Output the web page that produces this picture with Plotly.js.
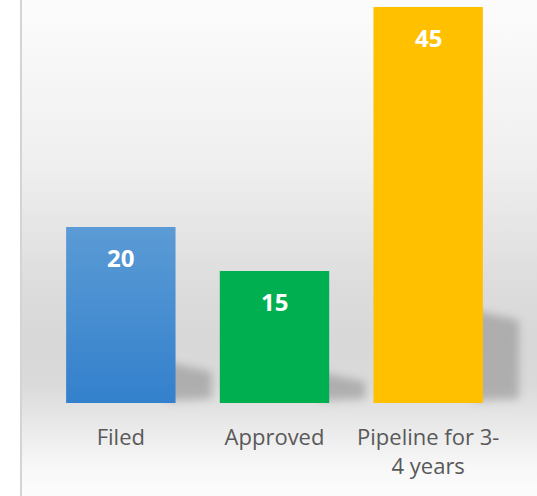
<!DOCTYPE html>
<html>
<head>
<meta charset="utf-8">
<script src="https://cdn.plot.ly/plotly-3.0.1.min.js"></script>
<style>
  html, body { margin: 0; padding: 0; background: #ffffff; }
  #wrap { position: relative; width: 537px; height: 496px; overflow: hidden; }
  #panel {
    position: absolute; left: 20px; top: 0; width: 517px; height: 496px;
    border-left: 2px solid #d4d4d4; box-sizing: border-box;
    background: linear-gradient(to bottom, #fcfcfc 0px, #efefef 165px, #dcdcdc 290px, #d8d8d8 340px, #dadada 385px, #e9e9e9 425px, #f8f8f8 468px, #fcfcfc 496px);
  }
  #chart { position: absolute; left: 0; top: 0; width: 537px; height: 496px; }
</style>
</head>
<body>
<div id="wrap">
  <div id="panel"></div>
  <div id="chart"></div>
</div>
<script>
const categories = ["Filed", "Approved", "Pipeline for 3-<br>4 years"];
const values = [20, 15, 45];
const barColors = ["#4a8fd4", "#00b050", "#ffc000"];

const annotations = categories.map((c, i) => ({
  x: c, y: values[i], xref: "x", yref: "y",
  text: "<b>" + values[i] + "</b>",
  showarrow: false, yanchor: "top", yshift: -12,
  font: { family: "Open Sans, sans-serif", size: 24, color: "#ffffff" }
}));

const trace = {
  type: "bar",
  x: categories,
  y: values,
  marker: { color: barColors, line: { width: 0 } },
  width: 0.712,
  hoverinfo: "none"
};

const layout = {
  width: 537, height: 496,
  margin: { l: 44, r: 32, t: 0, b: 93 },
  paper_bgcolor: "rgba(0,0,0,0)",
  plot_bgcolor: "rgba(0,0,0,0)",
  showlegend: false,
  xaxis: {
    type: "category",
    showgrid: false, zeroline: false, showline: false,
    ticks: "",
    ticklabelstandoff: 19,
    tickfont: { family: "Open Sans, sans-serif", size: 22, color: "#595959" },
    fixedrange: true
  },
  yaxis: {
    range: [0, 45.8],
    visible: false,
    showgrid: false, zeroline: false,
    fixedrange: true
  },
  annotations: annotations
};

Plotly.newPlot("chart", [trace], layout, { displayModeBar: false, staticPlot: true }).then(gd => {
  const svg = gd.querySelector("svg.main-svg");
  const ns = "http://www.w3.org/2000/svg";
  let defs = svg.querySelector("defs");
  if (!defs) { defs = document.createElementNS(ns, "defs"); svg.insertBefore(defs, svg.firstChild); }

  // vertical gradient for the blue bar
  const grad = document.createElementNS(ns, "linearGradient");
  grad.setAttribute("id", "blueGrad");
  grad.setAttribute("x1", "0"); grad.setAttribute("y1", "0");
  grad.setAttribute("x2", "0"); grad.setAttribute("y2", "1");
  [["0%", "#5b9bd5"], ["100%", "#3380cc"]].forEach(([o, c]) => {
    const s = document.createElementNS(ns, "stop");
    s.setAttribute("offset", o); s.setAttribute("stop-color", c);
    grad.appendChild(s);
  });
  defs.appendChild(grad);

  // soft blur filter for the cast shadows
  const filt = document.createElementNS(ns, "filter");
  filt.setAttribute("id", "shadowBlur");
  filt.setAttribute("x", "-50%"); filt.setAttribute("y", "-50%");
  filt.setAttribute("width", "200%"); filt.setAttribute("height", "200%");
  const blur = document.createElementNS(ns, "feGaussianBlur");
  blur.setAttribute("stdDeviation", "4");
  filt.appendChild(blur);
  defs.appendChild(filt);

  const paths = Array.from(gd.querySelectorAll(".barlayer .point path"));
  if (paths[0]) paths[0].style.fill = "url(#blueGrad)";

  // shadows derived from each drawn bar's own box, in an unclipped layer under the bars
  const fl = gd._fullLayout;
  const sg = document.createElementNS(ns, "g");
  sg.setAttribute("transform", "translate(" + fl._size.l + "," + fl._size.t + ")");
  paths.forEach(p => {
    const b = p.getBBox();
    const R = b.x + b.width, base = b.y + b.height, h = b.height;
    const top = base - 0.235 * h;
    const pts = [
      [R - 10, top], [R + 36, top + 10], [R + 36, base - 4], [R - 10, base - 2]
    ].map(q => q.join(",")).join(" ");
    const poly = document.createElementNS(ns, "polygon");
    poly.setAttribute("points", pts);
    poly.setAttribute("fill", "rgba(0,0,0,0.2)");
    poly.setAttribute("filter", "url(#shadowBlur)");
    sg.appendChild(poly);
  });
  const cart = svg.querySelector(".cartesianlayer");
  svg.insertBefore(sg, cart);
});
</script>
</body>
</html>
